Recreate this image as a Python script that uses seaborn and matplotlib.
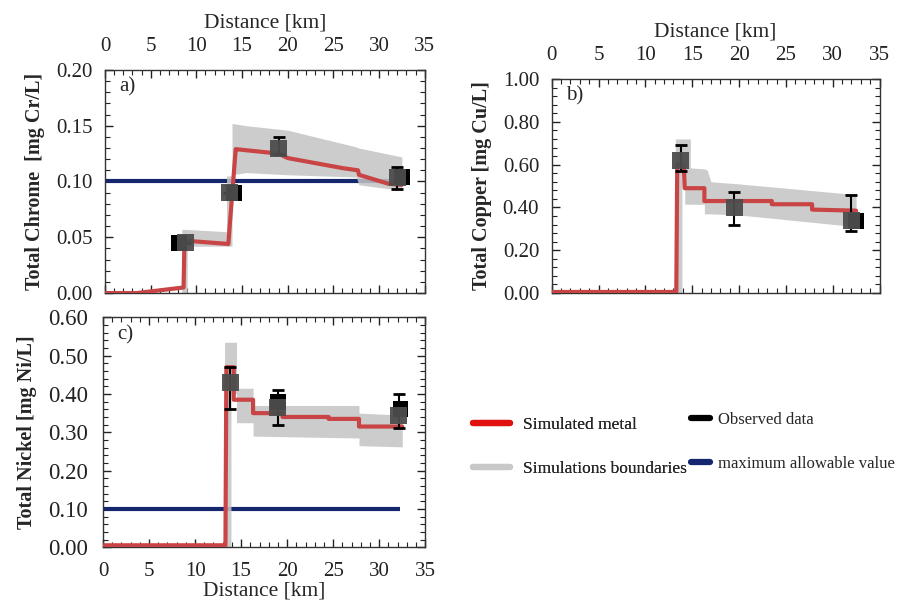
import numpy as np
import pandas as pd
import seaborn as sns
import matplotlib.pyplot as plt
from matplotlib.lines import Line2D
from matplotlib.ticker import MultipleLocator, FormatStrFormatter

sns.set_theme(style="ticks")
plt.rcParams["font.family"] = ["Liberation Serif", "DejaVu Serif"]
plt.rcParams["font.size"] = 12

RED = "#c94545"
BAND = "#c4c4c4"
NAVY = "#14266e"
OBS_GREY = "#4d4d4d"

# ---------------- Chrome ----------------
cr_sim_x = [0, 3.5, 8.6, 8.7, 13.5, 14.3, 14.3, 19.0, 20.0, 26.0, 27.7, 27.8, 31.0, 32.5]
cr_sim_y = [0.0, 0.0, 0.005, 0.047, 0.044, 0.128, 0.129, 0.125, 0.121, 0.112, 0.110, 0.106, 0.098, 0.097]
cr_band_x = [8.4, 9.0, 9.0, 13.3, 13.3, 13.9, 13.9, 15.5, 20.0, 27.5, 27.8, 32.5]
cr_band_lo = [0.0, 0.0, 0.042, 0.042, 0.042, 0.042, 0.106, 0.108, 0.106, 0.104, 0.097, 0.092]
cr_band_hi = [0.057, 0.057, 0.057, 0.055, 0.105, 0.105, 0.152, 0.150, 0.146, 0.131, 0.130, 0.122]
cr_obs_x = [8.8, 13.6, 19.0, 32.0]
cr_obs_y = [0.045, 0.090, 0.130, 0.104]
cr_err_lo = [0.045, 0.090, 0.125, 0.093]
cr_err_hi = [0.045, 0.090, 0.140, 0.113]
cr_blk_x = [8.1, 14.1, 32.5]
cr_blk_y = [0.045, 0.090, 0.104]
cr_limit = 0.10

# ---------------- Copper ----------------
cu_sim_x = [0, 13.3, 13.4, 14.1, 14.2, 16.3, 16.3, 23.5, 23.5, 27.8, 27.8, 32.5]
cu_sim_y = [0.005, 0.005, 0.60, 0.60, 0.49, 0.49, 0.43, 0.43, 0.415, 0.415, 0.39, 0.385]
cu_band_x = [13.2, 13.9, 13.9, 14.2, 14.2, 14.8, 14.8, 16.3, 16.3, 16.6, 17.0, 20.0, 32.5]
cu_band_lo = [0.0, 0.0, 0.55, 0.55, 0.415, 0.415, 0.415, 0.415, 0.37, 0.37, 0.37, 0.365, 0.31]
cu_band_hi = [0.72, 0.72, 0.72, 0.72, 0.72, 0.72, 0.585, 0.58, 0.58, 0.575, 0.52, 0.51, 0.46]
cu_obs_x = [13.8, 19.5, 32.0]
cu_obs_y = [0.62, 0.40, 0.34]
cu_err_lo = [0.57, 0.32, 0.29]
cu_err_hi = [0.69, 0.47, 0.46]
cu_blk_x = [32.5]
cu_blk_y = [0.335]

# ---------------- Nickel ----------------
ni_sim_x = [0, 13.3, 13.4, 14.2, 14.2, 16.3, 16.3, 19.5, 19.5, 24.5, 24.5, 27.8, 27.8, 32.5]
ni_sim_y = [0.005, 0.005, 0.47, 0.47, 0.385, 0.385, 0.35, 0.35, 0.34, 0.34, 0.335, 0.335, 0.315, 0.315]
ni_band_x = [13.2, 13.9, 13.9, 14.5, 14.5, 16.3, 16.3, 27.8, 27.8, 32.5]
ni_band_lo = [0.0, 0.0, 0.40, 0.40, 0.325, 0.325, 0.29, 0.285, 0.265, 0.262]
ni_band_hi = [0.535, 0.535, 0.535, 0.535, 0.415, 0.415, 0.37, 0.37, 0.35, 0.345]
ni_obs_x = [13.8, 19.0, 32.1]
ni_obs_y = [0.43, 0.365, 0.345]
ni_err_lo = [0.36, 0.32, 0.31]
ni_err_hi = [0.47, 0.41, 0.40]
ni_blk_x = [19.0, 32.3]
ni_blk_y = [0.38, 0.36]
ni_limit = 0.10


def panel(ax, sim_x, sim_y, band_x, band_lo, band_hi, obs_x, obs_y, err_lo, err_hi,
          blk_x, blk_y, limit, ymax, ymajor, label, tag, xlabel_top,
          ytick_size=15, ytick_pad=9, xtick_pad=10, xlabel_pad=7):
    if limit is not None:
        ax.plot([0, 32.3], [limit, limit], color=NAVY, lw=3, zorder=1, solid_capstyle="butt")
    ax.fill_between(band_x, band_lo, band_hi, color=BAND, alpha=0.85, lw=0, zorder=2)
    sim = pd.DataFrame({"x": sim_x, "y": sim_y})
    sns.lineplot(data=sim, x="x", y="y", ax=ax, sort=False, estimator=None,
                 color=RED, lw=3.0, zorder=3)
    blk = pd.DataFrame({"x": blk_x, "y": blk_y})
    sns.scatterplot(data=blk, x="x", y="y", ax=ax, marker="s", s=130,
                    color="black", edgecolor="none", zorder=4)
    oy = np.array(obs_y)
    yerr = np.vstack([oy - np.array(err_lo), np.array(err_hi) - oy])
    ax.errorbar(obs_x, obs_y, yerr=yerr, fmt="none", ecolor="black", elinewidth=1.5,
                capsize=4, capthick=2, zorder=5)
    obs = pd.DataFrame({"x": obs_x, "y": obs_y})
    sns.scatterplot(data=obs, x="x", y="y", ax=ax, marker="s", s=150,
                    color=OBS_GREY, edgecolor="none", alpha=0.95, zorder=6)

    ax.set_xlim(0, 35)
    ax.set_ylim(0, ymax)
    ax.xaxis.set_major_locator(MultipleLocator(5))
    ax.xaxis.set_minor_locator(MultipleLocator(1))
    ax.yaxis.set_major_locator(MultipleLocator(ymajor))
    ax.yaxis.set_minor_locator(MultipleLocator(ymajor / 5))
    ax.yaxis.set_major_formatter(FormatStrFormatter("%.2f"))
    ax.tick_params(which="both", direction="in", top=True, right=True, colors="#222222")
    ax.tick_params(which="major", length=6, width=1)
    ax.tick_params(which="minor", length=3.5, width=0.8)
    ax.tick_params(axis="x", which="major", pad=xtick_pad, labelsize=15)
    ax.tick_params(axis="y", which="major", pad=ytick_pad, labelsize=ytick_size)
    if xlabel_top:
        ax.tick_params(axis="x", labeltop=True, labelbottom=False)
        ax.xaxis.set_label_position("top")
    ax.set_xlabel("Distance [km]", fontsize=15.5, labelpad=xlabel_pad)
    ax.set_ylabel(label, fontsize=14.5, fontweight="bold", labelpad=8)
    for sp in ax.spines.values():
        sp.set_linewidth(1.0)
        sp.set_color("#333333")
    ax.text(0.045, 0.965, tag, transform=ax.transAxes, ha="left", va="top", fontsize=15)


fig = plt.figure(figsize=(9.03, 6.08), dpi=100)
ax_a = fig.add_axes([0.1163, 0.518, 0.354, 0.367])
ax_b = fig.add_axes([0.611, 0.518, 0.363, 0.352])
ax_c = fig.add_axes([0.114, 0.100, 0.357, 0.378])

panel(ax_a, cr_sim_x, cr_sim_y, cr_band_x, cr_band_lo, cr_band_hi, cr_obs_x, cr_obs_y,
      cr_err_lo, cr_err_hi, cr_blk_x, cr_blk_y, cr_limit, 0.20, 0.05,
      "Total Chrome  [mg Cr/L]", "a)", True)
panel(ax_b, cu_sim_x, cu_sim_y, cu_band_x, cu_band_lo, cu_band_hi, cu_obs_x, cu_obs_y,
      cu_err_lo, cu_err_hi, cu_blk_x, cu_blk_y, None, 1.0, 0.2,
      "Total Copper [mg Cu/L]", "b)", True)
panel(ax_c, ni_sim_x, ni_sim_y, ni_band_x, ni_band_lo, ni_band_hi, ni_obs_x, ni_obs_y,
      ni_err_lo, ni_err_hi, ni_blk_x, ni_blk_y, ni_limit, 0.60, 0.10,
      "Total Nickel [mg Ni/L]", "c)", False, ytick_size=16.5, ytick_pad=11,
      xtick_pad=11, xlabel_pad=0)

for ax in (ax_a, ax_b, ax_c):
    leg = ax.get_legend()
    if leg is not None:
        leg.remove()

# shared legend in the empty lower-right area
h_sim = [Line2D([], [], color="#e01010", lw=4.5), Line2D([], [], color="#c8c8c8", lw=4.5)]
leg1 = fig.legend(h_sim, ["Simulated metal", "Simulations boundaries"],
                  loc="center left", bbox_to_anchor=(0.507, 0.265), frameon=False,
                  handlelength=2.1, handletextpad=0.75, labelspacing=1.6, fontsize=12.5)
h_obs = [Line2D([], [], color="black", lw=4.5), Line2D([], [], color=NAVY, lw=4.5)]
fig.legend(h_obs, ["Observed data", "maximum allowable value"],
           loc="center left", bbox_to_anchor=(0.749, 0.273), frameon=False,
           handlelength=1.1, handletextpad=0.5, labelspacing=1.65, fontsize=12)
fig.add_artist(leg1)

fig.savefig("out.png", dpi=100, facecolor="white")
